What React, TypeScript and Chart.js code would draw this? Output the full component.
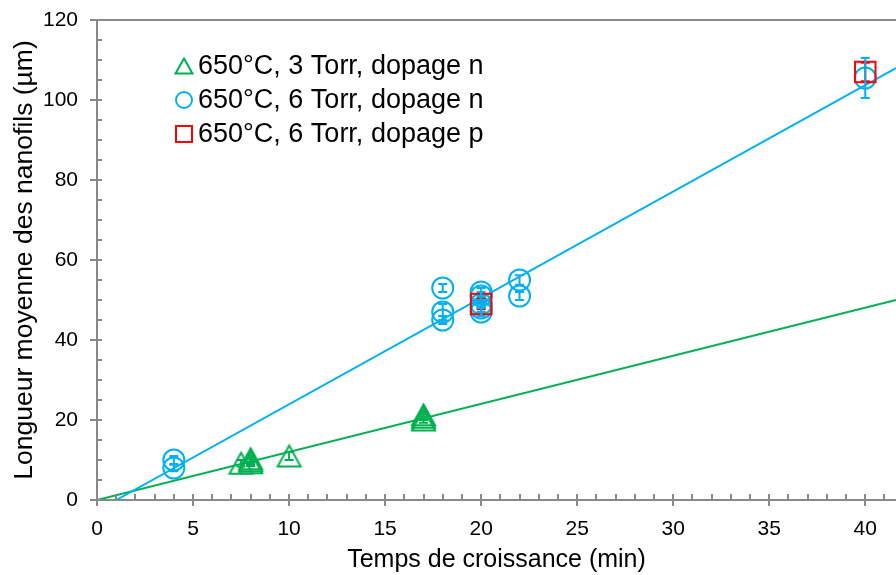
import React, { useEffect, useRef } from 'react';
import { Chart, registerables } from 'chart.js';

Chart.register(...registerables);

const FONT = "'Liberation Sans', Arial, sans-serif";

// ---- data ----
const seriesLabels = ['650°C, 3 Torr, dopage n', '650°C, 6 Torr, dopage n', '650°C, 6 Torr, dopage p'];
const xTitle = 'Temps de croissance (min)';
const yTitle = 'Longueur moyenne des nanofils (µm)';

const triX = [7.5, 8, 8, 8, 10, 17, 17, 17];
const triY = [9.2, 9.3, 9.8, 10.3, 11, 20.0, 20.7, 21.3];
const triErr = [0.8, 0.8, 0.8, 0.8, 1, 0.7, 0.7, 0.7];

const circX = [4, 4, 18, 18, 18, 20, 20, 20, 20, 20, 22, 22, 40];
const circY = [10, 8, 53, 47, 45, 52, 51, 49, 48, 47, 55, 51, 105.5];
const circErr = [1, 0.8, 1, 2, 1, 1, 1, 1, 1, 1, 1.2, 1, 5];

const sqX = [20, 40];
const sqY = [49, 107];
const sqErr = [1.3, 2.3];

const fit6X = [1.0, 41.6];
const fit6Y = [0, 108];
const fit3X = [0, 41.6];
const fit3Y = [0, 50];

const xMin = 0, xMax = 41.6, xStep = 5, xMinorStep = 1;
const yMin = 0, yMax = 120, yStep = 20, yMinorStep = 5;

const GREEN = '#00B050';
const BLUE = '#00B0F0';
const RED = '#FF0000';
const AXIS = '#898989';

const pts = (xs: number[], ys: number[]) => xs.map((x, i) => ({ x, y: ys[i] }));

function triImage(color: string, w: number, h: number, lw: number) {
  const c = document.createElement('canvas');
  c.width = Math.ceil(w + lw * 2 + 4);
  c.height = Math.ceil(h + lw * 2 + 4);
  const ctx = c.getContext('2d')!;
  const cx = c.width / 2, cy = c.height / 2;
  ctx.strokeStyle = color;
  ctx.lineWidth = lw;
  ctx.beginPath();
  ctx.moveTo(cx, cy - h / 2);
  ctx.lineTo(cx + w / 2, cy + h / 2);
  ctx.lineTo(cx - w / 2, cy + h / 2);
  ctx.closePath();
  ctx.stroke();
  return c;
}

const errorBarPlugin = {
  id: 'errorBars',
  afterDatasetsDraw(chart: any) {
    const ctx = chart.ctx;
    const xs = chart.scales.x, ys = chart.scales.y;
    const area = chart.chartArea;
    ctx.save();
    ctx.beginPath();
    ctx.rect(area.left, area.top, area.right - area.left, area.bottom - area.top);
    ctx.clip();
    chart.data.datasets.forEach((ds: any) => {
      if (!ds.errors) return;
      ctx.strokeStyle = ds.borderColor;
      ctx.lineWidth = 2;
      ds.data.forEach((p: any, j: number) => {
        const e = ds.errors[j];
        const px = xs.getPixelForValue(p.x);
        const y1 = ys.getPixelForValue(p.y + e);
        const y2 = ys.getPixelForValue(p.y - e);
        ctx.beginPath();
        ctx.moveTo(px, y1); ctx.lineTo(px, y2);
        ctx.moveTo(px - 4.5, y1); ctx.lineTo(px + 4.5, y1);
        ctx.moveTo(px - 4.5, y2); ctx.lineTo(px + 4.5, y2);
        ctx.stroke();
      });
    });
    ctx.restore();
  },
};

const axisDecorPlugin = {
  id: 'axisDecor',
  afterDraw(chart: any) {
    const ctx = chart.ctx;
    const xs = chart.scales.x, ys = chart.scales.y;
    const a = chart.chartArea;
    ctx.save();
    ctx.strokeStyle = AXIS;
    ctx.lineWidth = 2;
    // top border
    ctx.beginPath();
    ctx.moveTo(a.left - 7, a.top);
    ctx.lineTo(a.right, a.top);
    ctx.stroke();
    // y ticks
    for (let v = yMin; v <= yMax + 1e-9; v += yMinorStep) {
      const py = Math.round(ys.getPixelForValue(v));
      const major = Math.abs(v / yStep - Math.round(v / yStep)) < 1e-9;
      ctx.beginPath();
      ctx.moveTo(major ? a.left - 7 : a.left, py);
      ctx.lineTo(a.left + 5, py);
      ctx.stroke();
    }
    // x ticks
    for (let v = xMin; v <= xMax + 1e-9; v += xMinorStep) {
      const px = Math.round(xs.getPixelForValue(v));
      const major = Math.abs(v / xStep - Math.round(v / xStep)) < 1e-9;
      ctx.beginPath();
      ctx.moveTo(px, a.bottom - 6);
      ctx.lineTo(px, major ? a.bottom + 6 : a.bottom);
      ctx.stroke();
    }
    ctx.restore();
  },
};

const legendPlugin = {
  id: 'customLegend',
  afterDraw(chart: any) {
    const ctx = chart.ctx;
    const a = chart.chartArea;
    const mx = a.left + 87;
    const tx = a.left + 101;
    const rows = [a.top + 46, a.top + 80, a.top + 114];
    const styles = [
      { color: GREEN, kind: 'tri' },
      { color: BLUE, kind: 'circ' },
      { color: RED, kind: 'sq' },
    ];
    ctx.save();
    ctx.lineWidth = 2;
    styles.forEach((s, i) => {
      const y = rows[i];
      ctx.strokeStyle = s.color;
      ctx.beginPath();
      if (s.kind === 'tri') {
        ctx.moveTo(mx, y - 7.5);
        ctx.lineTo(mx + 8.5, y + 7.5);
        ctx.lineTo(mx - 8.5, y + 7.5);
        ctx.closePath();
      } else if (s.kind === 'circ') {
        ctx.arc(mx, y, 8, 0, Math.PI * 2);
      } else {
        ctx.rect(mx - 8, y - 8, 16, 16);
      }
      ctx.stroke();
      ctx.fillStyle = '#000';
      ctx.font = `27px ${FONT}`;
      ctx.textAlign = 'left';
      ctx.textBaseline = 'middle';
      ctx.fillText(seriesLabels[i], tx, y + 1);
    });
    ctx.restore();
  },
};

const zeroPad = (s: any) => {
  s.paddingTop = 0;
  s.paddingBottom = 0;
  s.paddingLeft = 0;
  s.paddingRight = 0;
};

export default function App() {
  const ref = useRef<HTMLCanvasElement | null>(null);

  useEffect(() => {
    if (!ref.current) return;
    const tri = triImage(GREEN, 23, 21, 2);
    const chart = new Chart(ref.current, {
      type: 'scatter',
      data: {
        datasets: [
          {
            label: seriesLabels[2],
            data: pts(sqX, sqY),
            pointStyle: 'rect',
            pointRadius: 14.5,
            borderColor: RED,
            backgroundColor: 'rgba(0,0,0,0)',
            borderWidth: 2,
            showLine: false,
            order: 1,
            errors: sqErr,
          } as any,
          {
            label: seriesLabels[1],
            data: pts(circX, circY),
            pointStyle: 'circle',
            pointRadius: 10.5,
            borderColor: BLUE,
            backgroundColor: 'rgba(0,0,0,0)',
            borderWidth: 2,
            showLine: false,
            order: 2,
            errors: circErr,
          } as any,
          {
            label: seriesLabels[0],
            data: pts(triX, triY),
            pointStyle: tri,
            pointRadius: 12,
            borderColor: GREEN,
            backgroundColor: 'rgba(0,0,0,0)',
            borderWidth: 2,
            showLine: false,
            order: 3,
            errors: triErr,
          } as any,
          {
            label: 'fit6',
            data: pts(fit6X, fit6Y),
            showLine: true,
            pointRadius: 0,
            borderColor: BLUE,
            borderWidth: 2,
            order: 4,
          },
          {
            label: 'fit3',
            data: pts(fit3X, fit3Y),
            showLine: true,
            pointRadius: 0,
            borderColor: GREEN,
            borderWidth: 2,
            order: 5,
          },
        ],
      },
      options: {
        animation: false,
        responsive: false,
        devicePixelRatio: 1,
        layout: { autoPadding: false, padding: { top: 20, right: 0, left: 0, bottom: 0 } },
        plugins: { legend: { display: false }, tooltip: { enabled: false } },
        scales: {
          x: {
            type: 'linear',
            position: 'bottom',
            min: xMin,
            max: xMax,
            afterFit: (s: any) => { s.height = 75; zeroPad(s); },
            grid: { display: false, drawTicks: false, tickLength: 0 },
            border: { display: true, color: AXIS, width: 2 },
            ticks: {
              stepSize: xStep,
              includeBounds: false,
              maxRotation: 0,
              autoSkip: false,
              padding: 17,
              color: '#000',
              font: { family: FONT, size: 21 },
            },
            title: {
              display: true,
              text: xTitle,
              color: '#000',
              font: { family: FONT, size: 25 },
              padding: { top: 0, bottom: 0 },
            },
          },
          y: {
            type: 'linear',
            position: 'left',
            min: yMin,
            max: yMax,
            afterFit: (s: any) => { s.width = 97; zeroPad(s); },
            grid: { display: false, drawTicks: false, tickLength: 0 },
            border: { display: true, color: AXIS, width: 2 },
            ticks: {
              stepSize: yStep,
              padding: 19,
              color: '#000',
              font: { family: FONT, size: 21 },
            },
            title: {
              display: true,
              text: yTitle,
              color: '#000',
              font: { family: FONT, size: 26.5 },
              padding: { top: 9, bottom: 0 },
            },
          },
        },
      },
      plugins: [errorBarPlugin, axisDecorPlugin, legendPlugin],
    } as any);
    return () => chart.destroy();
  }, []);

  return (
    <div style={{ position: 'absolute', left: 0, top: 0, width: 896, height: 575, background: '#fff' }}>
      <canvas ref={ref} width={896} height={575} style={{ display: 'block', width: 896, height: 575 }} />
    </div>
  );
}
